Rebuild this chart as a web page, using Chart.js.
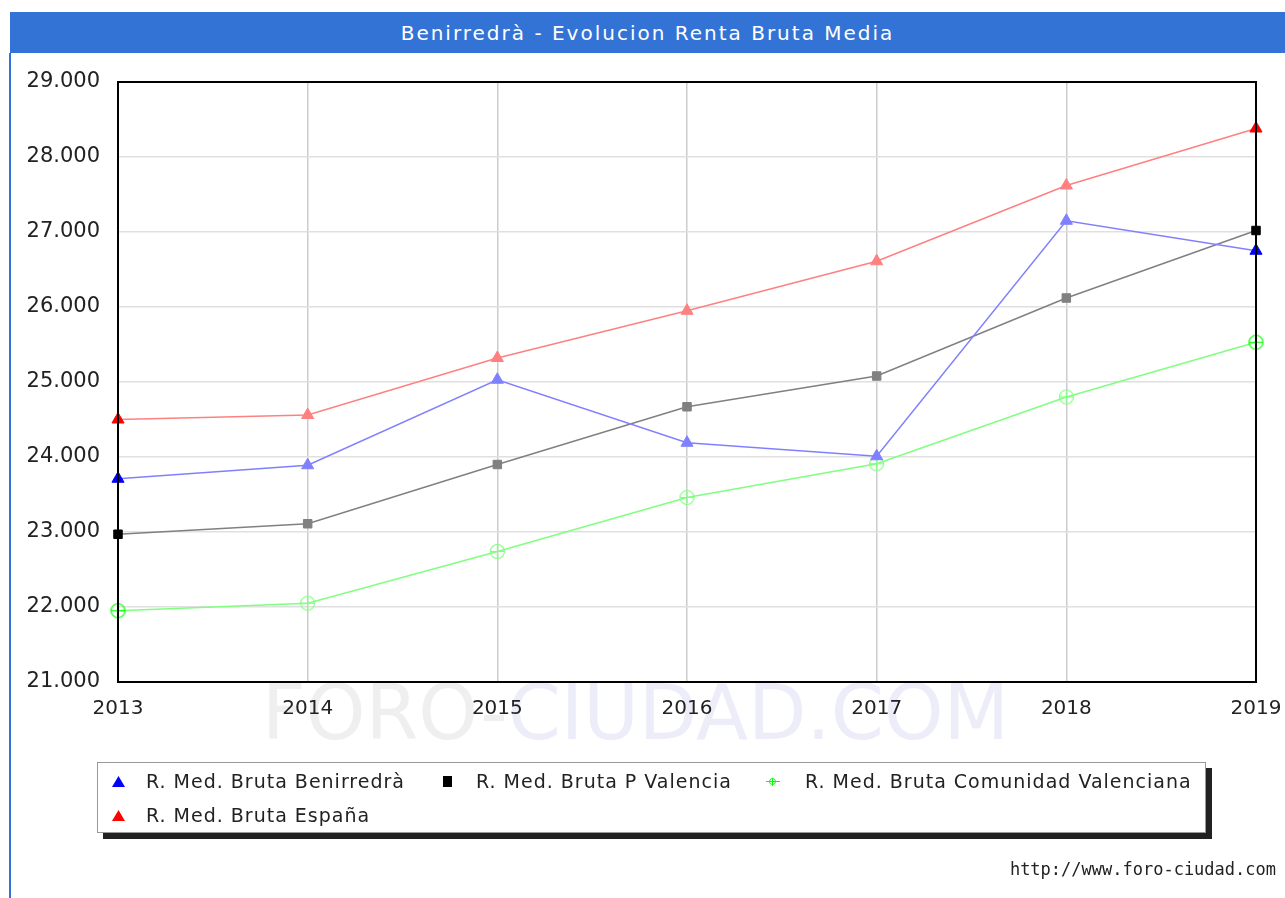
<!DOCTYPE html>
<html><head><meta charset="utf-8">
<script src="https://cdn.jsdelivr.net/npm/chart.js@4"></script>
<style>
html,body{margin:0;padding:0;background:#fff;}
#wrap{position:relative;width:1285px;height:898px;overflow:hidden;font-family:"DejaVu Sans",sans-serif;}
#title{position:absolute;left:10px;top:12px;width:1275px;height:41px;background:#3473d6;color:#fff;font-size:20px;letter-spacing:2px;line-height:43px;text-align:center;}
#lborder{position:absolute;left:9px;top:53px;width:2px;height:845px;background:#3473d6;}
#wm{position:absolute;left:262px;top:668px;font-family:"DejaVu Sans",sans-serif;font-size:76px;line-height:90px;white-space:nowrap;z-index:0;}
#wm .a{color:#efefef;} #wm .b{color:#ededf9;}
canvas{position:absolute;left:0;top:0;z-index:1;}
#legend{position:absolute;left:97px;top:762px;width:1107px;height:69px;border:1px solid #999;box-shadow:6px 6px 0 #222;background:#fff;z-index:2;}
.item{position:absolute;font-size:19px;letter-spacing:1px;color:#222;white-space:nowrap;line-height:22px;}
.mk{position:absolute;}
.tri{width:13px;height:11px;clip-path:polygon(50% 0,100% 100%,0 100%);}
.sq{width:9px;height:11px;background:#000;}
#footer{position:absolute;right:9px;top:859px;font-family:"DejaVu Sans Mono",monospace;font-size:17px;color:#222;z-index:2;}
</style></head>
<body>
<div id="wrap">
  <div id="title">Benirredrà - Evolucion Renta Bruta Media</div>
  <div id="lborder"></div>
  <div id="wm"><span class="a">FORO-</span><span class="b">CIUDAD.COM</span></div>
  <canvas id="c" width="1285" height="898"></canvas>
  <div id="legend">
    <div class="mk tri" style="left:14px;top:13px;background:#0000ff"></div>
    <div class="item" style="left:48px;top:7px">R. Med. Bruta Benirredrà</div>
    <div class="mk sq" style="left:345px;top:13px"></div>
    <div class="item" style="left:378px;top:7px">R. Med. Bruta P Valencia</div>
    <div class="mk" style="left:668px;top:12px;width:14px;height:14px;">
      <div style="position:absolute;left:0;top:6px;width:14px;height:1px;background:#00ff00"></div>
      <div style="position:absolute;left:6px;top:3px;width:1px;height:8px;background:#00ff00"></div>
      <div style="position:absolute;left:3px;top:3px;width:7px;height:7px;border:1px solid #00ff00;border-radius:50%;box-sizing:border-box"></div>
    </div>
    <div class="item" style="left:707px;top:7px">R. Med. Bruta Comunidad Valenciana</div>
    <div class="mk tri" style="left:14px;top:47px;background:#ff0000"></div>
    <div class="item" style="left:48px;top:41px">R. Med. Bruta España</div>
  </div>
  <div id="footer">http://www.foro-ciudad.com</div>
</div>
<script>
const years = ['2013','2014','2015','2016','2017','2018','2019'];
const benirredra = [23710, 23890, 25030, 24190, 24010, 27150, 26750];
const pValencia = [22970, 23110, 23900, 24670, 25080, 26120, 27020];
const comunidadValenciana = [21950, 22050, 22740, 23460, 23910, 24800, 25530];
const espana = [24500, 24560, 25320, 25950, 26610, 27620, 28380];
const yTicks = [21000, 22000, 23000, 24000, 25000, 26000, 27000, 28000, 29000];

function endColors(n, full, light){
  return Array.from({length:n}, (_, i) => (i === 0 || i === n - 1) ? full : light);
}
function crossCircle(color){
  const c = document.createElement('canvas');
  c.width = 17; c.height = 17;
  const g = c.getContext('2d');
  g.strokeStyle = color; g.lineWidth = 1.2;
  g.beginPath(); g.arc(8.5, 8.5, 7, 0, Math.PI*2); g.stroke();
  g.beginPath(); g.moveTo(1, 8.5); g.lineTo(16, 8.5); g.moveTo(8.5, 3); g.lineTo(8.5, 14); g.stroke();
  return c;
}
const fullCirc = crossCircle('#00ff00'), lightCirc = crossCircle('#80ff80');

const frame = {
  id: 'frame',
  afterDatasetsDraw(chart){
    const {ctx, chartArea:a} = chart;
    ctx.save();
    ctx.strokeStyle = '#000'; ctx.lineWidth = 2;
    ctx.strokeRect(a.left, a.top, a.right - a.left, a.bottom - a.top);
    ctx.restore();
  }
};

new Chart(document.getElementById('c'), {
  type: 'line',
  data: {
    labels: years,
    datasets: [
      { label: 'R. Med. Bruta Benirredrà', data: benirredra, borderColor: '#8080ff', borderWidth: 1.5,
        pointStyle: 'triangle', pointRadius: 7, pointBorderWidth: 1,
        pointBackgroundColor: endColors(years.length, '#0000ff', '#8080ff'),
        pointBorderColor: endColors(years.length, '#0000ff', '#8080ff') },
      { label: 'R. Med. Bruta P Valencia', data: pValencia, borderColor: '#808080', borderWidth: 1.5,
        pointStyle: 'rect', pointRadius: 6, pointBorderWidth: 1,
        pointBackgroundColor: endColors(years.length, '#000000', '#808080'),
        pointBorderColor: endColors(years.length, '#000000', '#808080') },
      { label: 'R. Med. Bruta Comunidad Valenciana', data: comunidadValenciana, borderColor: '#80ff80', borderWidth: 1.5,
        pointStyle: endColors(years.length, fullCirc, lightCirc), pointRadius: 8 },
      { label: 'R. Med. Bruta España', data: espana, borderColor: '#ff8080', borderWidth: 1.5,
        pointStyle: 'triangle', pointRadius: 7, pointBorderWidth: 1,
        pointBackgroundColor: endColors(years.length, '#ff0000', '#ff8080'),
        pointBorderColor: endColors(years.length, '#ff0000', '#ff8080') }
    ]
  },
  options: {
    responsive: false, animation: false, devicePixelRatio: 1,
    layout: { padding: { top: 82, right: 29, left: 0, bottom: 0 } },
    plugins: { legend: { display: false }, title: { display: false }, tooltip: { enabled: false } },
    elements: { line: { tension: 0 } },
    scales: {
      x: {
        type: 'category',
        grid: { color: '#cccccc', lineWidth: 1.5, drawTicks: false },
        border: { display: false },
        ticks: { color: '#222', font: { family: 'DejaVu Sans', size: 20 }, padding: 15, maxRotation: 0, autoSkip: false },
        afterFit: s => { s.height = 216; s.paddingRight = 0; s.paddingLeft = 0; }
      },
      y: {
        min: 21000, max: 29000,
        afterBuildTicks: s => { s.ticks = yTicks.map(v => ({ value: v })); },
        grid: { color: '#e0e0e0', lineWidth: 1.5, drawTicks: false },
        border: { display: false },
        ticks: { color: '#222', font: { family: 'DejaVu Sans', size: 21 }, padding: 18,
          callback: v => v.toLocaleString('de-DE') },
        afterFit: s => { s.width = 118; s.paddingTop = 0; s.paddingBottom = 0; }
      }
    }
  },
  plugins: [frame]
});
</script>
</body></html>
